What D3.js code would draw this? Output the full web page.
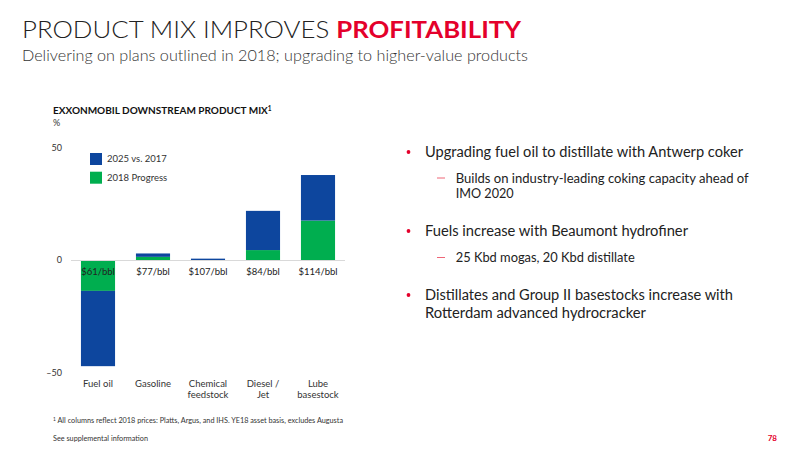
<!DOCTYPE html>
<html><head><meta charset="utf-8">
<script src="https://cdn.jsdelivr.net/npm/d3@7/dist/d3.min.js"></script>
<style>
body{margin:0;background:#fff;}
svg{display:block;font-family:Lato,"Open Sans",sans-serif;}
</style></head>
<body><svg id="c" width="800" height="450"></svg>
<script>
const categories = ["Fuel oil","Gasoline","Chemical\nfeedstock","Diesel /\nJet","Lube\nbasestock"];
const prices = ["$61/bbl","$77/bbl","$107/bbl","$84/bbl","$114/bbl"];
const progress2018 = [-13.7, 1.4, 0, 4.4, 17.5];
const vs2017 = [-33.4, 1.5, 0.6, 17.4, 20.2];
const yTicks = [-50, 0, 50];
const seriesNames = ["2025 vs. 2017","2018 Progress"];

const BLUE="#0D469E", GREEN="#00AE4F", RED="#E4002B";
const svg=d3.select("#c");

function fit(sel,w){ sel.attr("textLength",w).attr("lengthAdjust","spacingAndGlyphs"); return sel;}

// Title
const t=svg.append("text").attr("x",22).attr("y",38).attr("font-size",23).attr("fill","#222");
t.append("tspan").attr("font-weight",300).text("PRODUCT MIX IMPROVES ");
t.append("tspan").attr("font-weight",700).attr("fill",RED).text("PROFITABILITY");
fit(t,499);
fit(svg.append("text").attr("x",22).attr("y",61).attr("font-size",16).attr("fill","#333").attr("font-weight",300)
  .text("Delivering on plans outlined in 2018; upgrading to higher-value products"),506);

// chart title
const ct=svg.append("text").attr("x",53).attr("y",114).attr("font-size",10).attr("font-weight",700).attr("fill","#111");
ct.append("tspan").text("EXXONMOBIL DOWNSTREAM PRODUCT MIX");
ct.append("tspan").attr("font-size",6.5).attr("dy",-3.5).text("1");
svg.append("text").attr("x",53).attr("y",125.5).attr("font-size",9).attr("fill","#333").text("%");

const x=d3.scaleBand().domain(categories).range([70.5,345.5]).paddingInner(0.38).paddingOuter(0.19);
const y=d3.scaleLinear().domain([-50,50]).range([372.7,147.3]);

// y axis labels
const ya=svg.append("g").attr("transform","translate(62,0)").call(d3.axisLeft(y).tickValues(yTicks).tickSize(0).tickPadding(0)
  .tickFormat(d=>d<0?"–"+Math.abs(d):d));
ya.select(".domain").remove();
ya.selectAll("text").attr("font-size",9).attr("fill","#333").attr("font-family","Lato,'Open Sans',sans-serif");

// bars
const data=categories.map((c,i)=>({c,g:progress2018[i],b:vs2017[i]}));
const bw=x.bandwidth();
svg.append("g").selectAll("rect.g").data(data).join("rect")
  .attr("x",d=>x(d.c)).attr("width",bw)
  .attr("y",d=>Math.min(y(0),y(d.g))).attr("height",d=>Math.abs(y(d.g)-y(0))).attr("fill",GREEN);
svg.append("g").selectAll("rect.b").data(data).join("rect")
  .attr("x",d=>x(d.c)).attr("width",bw)
  .attr("y",d=>Math.min(y(d.g),y(d.g+d.b))).attr("height",d=>Math.abs(y(d.g+d.b)-y(d.g))).attr("fill",BLUE);

svg.append("line").attr("x1",71).attr("x2",345).attr("y1",y(0)+0.5).attr("y2",y(0)+0.5).attr("stroke","#d9d9d9").attr("stroke-width",1);

// price labels
svg.append("g").selectAll("text").data(prices).join("text")
  .attr("x",(d,i)=>x(categories[i])+bw/2).attr("y",274.5).attr("text-anchor","middle")
  .attr("font-size",9.5).attr("fill","#222").text(d=>d);

// category labels
const cl=svg.append("g").selectAll("text").data(categories).join("text")
  .attr("x",d=>x(d)+bw/2).attr("y",387).attr("text-anchor","middle").attr("font-size",9.5).attr("fill","#333");
cl.each(function(d){
  const s=d3.select(this);
  d.split("\n").forEach((p,k)=>s.append("tspan").attr("x",x(d)+bw/2).attr("dy",k?11:0).text(p));
});

// legend
const lg=svg.append("g");
[BLUE,GREEN].forEach((col,i)=>{
  lg.append("rect").attr("x",90).attr("y",153+i*18.7).attr("width",12).attr("height",12).attr("fill",col);
  lg.append("text").attr("x",107).attr("y",162+i*18.7).attr("font-size",9.5).attr("fill","#333").text(seriesNames[i]);
});

// bullets
const bullets=[
  {lvl:0,y:157,lines:["Upgrading fuel oil to distillate with Antwerp coker"],w:[318]},
  {lvl:1,y:182.5,lines:["Builds on industry-leading coking capacity ahead of","IMO 2020"],w:[293,58]},
  {lvl:0,y:236,lines:["Fuels increase with Beaumont hydrofiner"],w:[263]},
  {lvl:1,y:262,lines:["25 Kbd mogas, 20 Kbd distillate"],w:[179]},
  {lvl:0,y:300,lines:["Distillates and Group II basestocks increase with","Rotterdam advanced hydrocracker"],w:[308,221]}
];
const bg=svg.append("g");
bullets.forEach(b=>{
  const fs=b.lvl?13:15.5, lh=b.lvl?15:17.7;
  const tx=b.lvl?455.7:425;
  if(b.lvl){
    bg.append("line").attr("x1",437).attr("x2",445).attr("y1",b.y-4.5).attr("y2",b.y-4.5).attr("stroke","#EE6677").attr("stroke-width",1);
  } else {
    bg.append("circle").attr("cx",408.5).attr("cy",b.y-5).attr("r",1.9).attr("fill",RED);
  }
  b.lines.forEach((l,k)=>{
    fit(bg.append("text").attr("x",tx).attr("y",b.y+k*lh).attr("font-size",fs).attr("fill","#222").text(l),b.w[k]);
  });
});

// footer
const fn=svg.append("text").attr("x",53).attr("y",423).attr("font-size",7.5).attr("fill","#333");
fn.append("tspan").attr("font-size",5).attr("dy",-2.5).text("1");
fn.append("tspan").attr("dy",2.5).text(" All columns reflect 2018 prices: Platts, Argus, and IHS. YE18 asset basis, excludes Augusta");
fit(fn,290);
fit(svg.append("text").attr("x",53).attr("y",441).attr("font-size",7.5).attr("fill","#333").text("See supplemental information"),95);
svg.append("text").attr("x",777).attr("y",441).attr("text-anchor","end").attr("font-size",8).attr("font-weight",700).attr("fill",RED).text("78");
</script></body></html>
